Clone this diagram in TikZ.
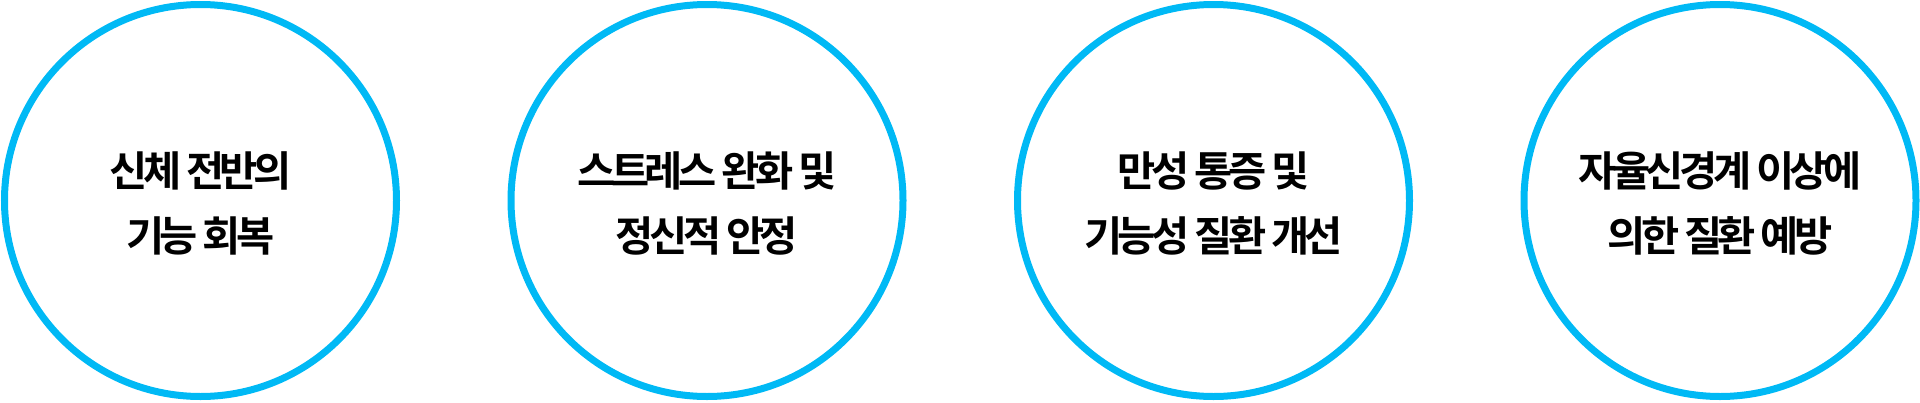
\documentclass[tikz,border=0pt]{standalone}
\usepackage{fontspec}
\newfontfamily\kr{Noto Sans CJK KR}[BoldFont={Noto Sans CJK KR Bold},LetterSpace=-11]
\usepackage{tikz}
\usetikzlibrary{positioning}
\definecolor{ringblue}{RGB}{0,185,245}

\begin{document}
\begin{tikzpicture}[
    x=1pt,y=-1pt,
    ring/.style={draw=ringblue,line width=7pt,circle,minimum size=392pt,inner sep=0pt},
    goal/.style={align=center,font=\kr\bfseries\fontsize{41.5}{65}\selectfont,text=black,yshift=-3pt}
]
\useasboundingbox (0,0) rectangle (1920,402);

\node[ring] (body) at (200.5,200.5) {};
\node[goal] (bodyt) at (body.center) {신체 전반의\\기능 회복};

\node[ring] (stress) at (707,200.5) {};
\node[goal] (stresst) at (stress.center) {스트레스 완화 및\\정신적 안정};

\node[ring] (pain) at (1213.5,200.5) {};
\node[goal] (paint) at (pain.center) {만성 통증 및\\기능성 질환 개선};

\node[ring] (auto) at (1720,200.5) {};
\node[goal] (autot) at (auto.center) {자율신경계 이상에\\의한 질환 예방};
\end{tikzpicture}
\end{document}
